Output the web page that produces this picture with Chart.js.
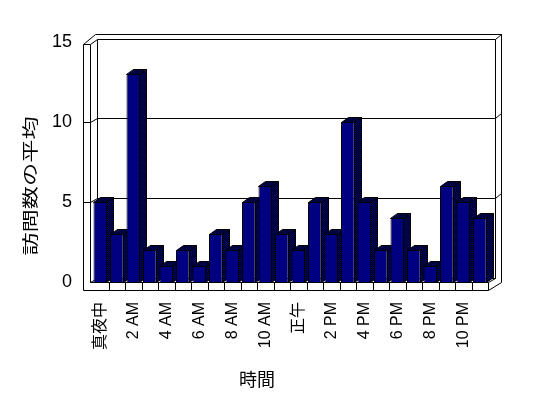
<!DOCTYPE html>
<html>
<head>
<meta charset="utf-8">
<script src="https://cdn.jsdelivr.net/npm/chart.js@4"></script>
<style>
  body { margin: 0; background: #fff; }
</style>
</head>
<body>
<canvas id="visitsChart" width="548" height="398"></canvas>
<script>
const hourLabels = ['真夜中', '1 AM', '2 AM', '3 AM', '4 AM', '5 AM', '6 AM', '7 AM', '8 AM', '9 AM', '10 AM', '11 AM',
  '正午', '1 PM', '2 PM', '3 PM', '4 PM', '5 PM', '6 PM', '7 PM', '8 PM', '9 PM', '10 PM', '11 PM'];
const avgVisits = [5, 3, 13, 2, 1, 2, 1, 3, 2, 5, 6, 3, 2, 5, 3, 10, 5, 2, 4, 2, 1, 6, 5, 4];
const gridValues = [5, 10];
const xTitle = '時間';
const yTitle = '訪問数の平均';

const FONT = '"Liberation Sans", "Noto Sans CJK JP", sans-serif';
Chart.defaults.font.family = FONT;
Chart.defaults.color = '#000';

// checkered navy / black for the shaded faces
const patCanvas = document.createElement('canvas');
patCanvas.width = 2;
patCanvas.height = 2;
const pctx = patCanvas.getContext('2d');
pctx.fillStyle = '#000080';
pctx.fillRect(0, 0, 2, 2);
pctx.fillStyle = '#000';
pctx.fillRect(1, 0, 1, 1);
pctx.fillRect(0, 1, 1, 1);

function line(ctx, x1, y1, x2, y2) {
  ctx.beginPath();
  ctx.moveTo(Math.round(x1) + 0.5, Math.round(y1) + 0.5);
  ctx.lineTo(Math.round(x2) + 0.5, Math.round(y2) + 0.5);
  ctx.stroke();
}

const box3d = {
  id: 'box3d',
  beforeDatasetsDraw(chart) {
    const { ctx, chartArea: a, scales: { y } } = chart;
    const L = a.left - 2, O = L - 7, R = a.right, B = a.bottom, T = a.top + 2;
    const ox = R + 13;
    ctx.save();
    ctx.strokeStyle = '#000';
    ctx.lineWidth = 1;

    // back wall
    line(ctx, L + 7, T - 5, R + 7, T - 5);
    line(ctx, L + 7, T - 5, L + 7, B - 4);
    line(ctx, R + 7, T - 5, R + 7, B - 4);
    // outer frame
    line(ctx, O, T, O + 12, T - 10);
    line(ctx, O + 12, T - 10, ox, T - 10);
    line(ctx, R + 7, T - 5, ox, T - 10);
    line(ctx, ox, T - 10, ox, B);
    line(ctx, ox, B, R, B + 8);
    // left slab
    line(ctx, O, T, O, B + 8);
    line(ctx, L, T, L, B);
    line(ctx, O, T, L, T);
    line(ctx, L, T, L + 7, T - 5);

    // gridlines
    gridValues.forEach(v => {
      const fy = y.getPixelForValue(v);
      const by = fy - 4;
      line(ctx, O, fy, L, fy);
      line(ctx, L, fy, L + 7, by);
      line(ctx, L + 7, by, R + 7, by);
      line(ctx, R + 7, by, ox, by - 5);
    });

    // floor
    line(ctx, L, B, L + 7, B - 4);
    line(ctx, L + 7, B - 4, R + 7, B - 4);
    line(ctx, R, B, R + 7, B - 4);
    line(ctx, L, B, R, B);
    line(ctx, O, B + 8, R, B + 8);
    line(ctx, R, B, R, B + 8);
    const step = a.width / hourLabels.length;
    for (let i = 1; i < hourLabels.length; i++) {
      line(ctx, a.left + i * step, B, a.left + i * step, B + 8);
    }

    // bar depth faces
    const pat = ctx.createPattern(patCanvas, 'repeat');
    const bdx = 7, bdy = -5;
    chart.getDatasetMeta(0).data.forEach(bar => {
      const l = Math.round(bar.x - bar.width / 2) + 0.5;
      const r = Math.round(bar.x + bar.width / 2) - 0.5;
      const t = Math.round(bar.y) + 0.5;
      const b = Math.round(bar.base) + 0.5;
      ctx.fillStyle = pat;
      ctx.beginPath();
      ctx.moveTo(r, t);
      ctx.lineTo(r + bdx, t + bdy);
      ctx.lineTo(r + bdx, b + bdy);
      ctx.lineTo(r, b);
      ctx.closePath();
      ctx.fill();
      ctx.stroke();
      ctx.beginPath();
      ctx.moveTo(l, t);
      ctx.lineTo(l + bdx, t + bdy);
      ctx.lineTo(r + bdx, t + bdy);
      ctx.lineTo(r, t);
      ctx.closePath();
      ctx.fill();
      ctx.stroke();
    });
    ctx.restore();
  },
  afterDraw(chart) {
    const { ctx } = chart;
    ctx.save();
    ctx.fillStyle = '#000';
    ctx.textAlign = 'center';
    ctx.textBaseline = 'middle';
    ctx.font = '18px "Noto Sans CJK JP", sans-serif';
    ctx.fillText(xTitle, 257, 379);
    // y title: glyphs are drawn stretched along the reading direction
    ctx.translate(30, 186);
    ctx.rotate(-Math.PI / 2);
    ctx.scale(1.45, 1);
    ctx.font = '16px "Noto Sans CJK JP", sans-serif';
    ctx.fillText(yTitle, 0, 0);
    ctx.restore();
  }
};

const visitsChart = document.getElementById('visitsChart');

new Chart(visitsChart, {
  type: 'bar',
  data: {
    labels: hourLabels,
    datasets: [
      {
        label: yTitle,
        data: avgVisits,
        backgroundColor: '#000080',
        borderColor: '#000',
        borderWidth: 1,
        barPercentage: 0.82,
        categoryPercentage: 1,
      },
    ],
  },
  options: {
    responsive: false,
    animation: false,
    layout: {
      padding: { top: 42, right: 60, left: 0, bottom: 0 },
    },
    plugins: {
      legend: { display: false },
      tooltip: { enabled: false },
    },
    scales: {
      x: {
        grid: { display: false, drawTicks: false },
        border: { display: false },
        ticks: {
          autoSkip: false,
          minRotation: 90,
          maxRotation: 90,
          padding: 20,
          font: { size: 16 },
          callback: (v, i) => (i % 2 === 0 ? hourLabels[i] : ''),
        },
        afterFit(scale) {
          scale.height = 116;
        },
      },
      y: {
        min: 0,
        max: 15,
        ticks: { stepSize: 5, padding: 20, font: { size: 18 } },
        grid: { display: false, drawTicks: false },
        border: { display: false },
        afterFit(scale) {
          scale.width = 92;
        },
      },
    },
  },
  plugins: [box3d],
});
</script>
</body>
</html>
